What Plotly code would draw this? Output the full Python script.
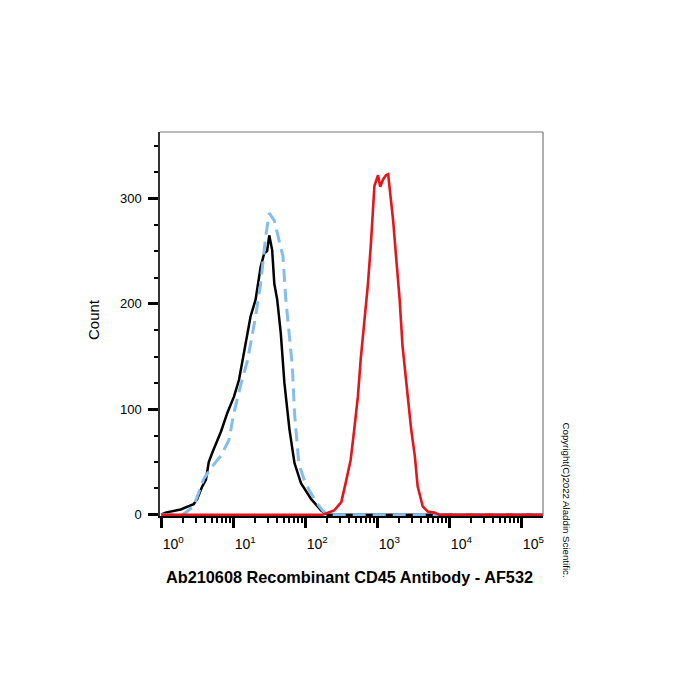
import plotly.graph_objects as go

# ---- data (log10 fluorescence intensity, count) ----
black_log = [0.00, 0.06, 0.27, 0.45, 0.50, 0.57, 0.62, 0.66, 0.71, 0.83, 0.92, 1.01, 1.08,
             1.24, 1.31, 1.38, 1.43, 1.47, 1.50, 1.54, 1.57, 1.61, 1.66, 1.71, 1.78,
             1.85, 1.94, 2.08, 2.22, 2.31, 3.0, 4.0, 5.35]
black_cnt = [0, 2, 5, 10, 15, 27, 33, 50, 59, 79, 97, 112, 128,
             188, 204, 235, 248, 250, 265, 251, 219, 204, 172, 125, 81,
             49, 30, 15, 4, 0, 0, 0, 0]

blue_log = [0.00, 0.30, 0.45, 0.52, 0.59, 0.71, 0.83, 0.94, 1.01, 1.10, 1.20, 1.31, 1.38,
            1.45, 1.50, 1.57, 1.59, 1.66, 1.69, 1.73, 1.78, 1.82, 1.85, 1.91, 1.98,
            2.05, 2.15, 2.24, 2.31, 3.0, 4.0, 5.35]
blue_cnt = [0, 0, 8, 21, 34, 46, 56, 71, 97, 122, 147, 188, 219,
            264, 286, 279, 273, 251, 245, 204, 172, 141, 97, 49, 34,
            24, 12, 4, 0, 0, 0, 0]

red_log = [0.00, 1.00, 2.24, 2.40, 2.50, 2.56, 2.63, 2.68, 2.73, 2.77, 2.82, 2.87, 2.91,
           2.96, 3.01, 3.04, 3.08, 3.12, 3.15, 3.17, 3.22, 3.26, 3.31, 3.35, 3.40,
           3.47, 3.52, 3.56, 3.63, 3.70, 3.79, 3.86, 4.5, 5.35]
red_cnt = [0, 0, 0, 4, 12, 30, 52, 81, 112, 148, 183, 219, 256,
           312, 322, 311, 318, 322, 323, 311, 279, 245, 204, 160, 125,
           81, 56, 27, 8, 3, 2, 0, 0, 0]

x_tick_vals = [1, 10, 100, 1000, 10000, 100000]
x_tick_text = ["10<sup>0</sup>", "10<sup>1</sup>", "10<sup>2</sup>",
               "10<sup>3</sup>", "10<sup>4</sup>", "10<sup>5</sup>"]
y_tick_vals = [0, 100, 200, 300]

x_title = "Ab210608 Recombinant CD45 Antibody - AF532"
y_title = "Count"
copyright_text = "Copyright(C)2022 Aladdin Scientific."

font_family = "Liberation Sans, Arial, sans-serif"

fig = go.Figure()
fig.add_trace(go.Scatter(x=[10 ** v for v in black_log], y=black_cnt, mode="lines",
                         line=dict(color="black", width=2.5), hoverinfo="skip"))
fig.add_trace(go.Scatter(x=[10 ** v for v in blue_log], y=blue_cnt, mode="lines",
                         line=dict(color="#85bdeb", width=3, dash="13px,7px"), hoverinfo="skip"))
fig.add_trace(go.Scatter(x=[10 ** v for v in red_log], y=red_cnt, mode="lines",
                         line=dict(color="#e3161b", width=2.6), hoverinfo="skip"))

fig.update_layout(
    width=700, height=700,
    margin=dict(l=160, r=157, t=132, b=184),
    paper_bgcolor="white", plot_bgcolor="white",
    showlegend=False,
    font=dict(family=font_family, color="black", size=13),
    xaxis=dict(
        type="log", range=[-0.017, 5.30],
        tickvals=x_tick_vals, ticktext=x_tick_text,
        ticks="outside", ticklen=10, tickwidth=2.5, tickcolor="black",
        ticklabelshift=12, ticklabelstandoff=4,
        tickfont=dict(size=14),
        minor=dict(dtick="D1", ticks="outside", ticklen=5, tickwidth=1.5, tickcolor="black"),
        showgrid=False, zeroline=False,
        showline=True, linecolor="black", linewidth=2,
    ),
    yaxis=dict(
        range=[-1.2, 363], tickvals=y_tick_vals,
        ticks="outside", ticklen=10, tickwidth=3, tickcolor="black",
        ticklabelstandoff=4,
        tickfont=dict(size=13),
        minor=dict(dtick=25, tick0=0, ticks="outside", ticklen=4, tickwidth=1.5, tickcolor="black"),
        showgrid=False, zeroline=False,
        showline=True, linecolor="#333333", linewidth=1.5,
    ),
    shapes=[
        dict(type="line", xref="paper", yref="paper", x0=0, x1=1, y0=1, y1=1,
             line=dict(color="#777777", width=1.2)),
        dict(type="line", xref="paper", yref="paper", x0=1, x1=1, y0=0, y1=1,
             line=dict(color="#777777", width=1.2)),
    ],
    annotations=[
        dict(text="<b>" + x_title + "</b>", xref="paper", yref="paper",
             x=(349 - 160) / 383, y=-(577 - 516) / 384, xanchor="center", yanchor="middle",
             showarrow=False, font=dict(size=16.3, family=font_family)),
        dict(text=y_title, xref="paper", yref="paper",
             x=-(160 - 93) / 383, y=(516 - 320) / 384, xanchor="center", yanchor="middle",
             textangle=-90, showarrow=False, font=dict(size=15, family=font_family)),
        dict(text=copyright_text, xref="paper", yref="paper",
             x=(566.5 - 160) / 383, y=(516 - 500) / 384, xanchor="center", yanchor="middle",
             textangle=90, showarrow=False, font=dict(size=9.7, family=font_family)),
    ],
)

fig.write_html("out.html")
